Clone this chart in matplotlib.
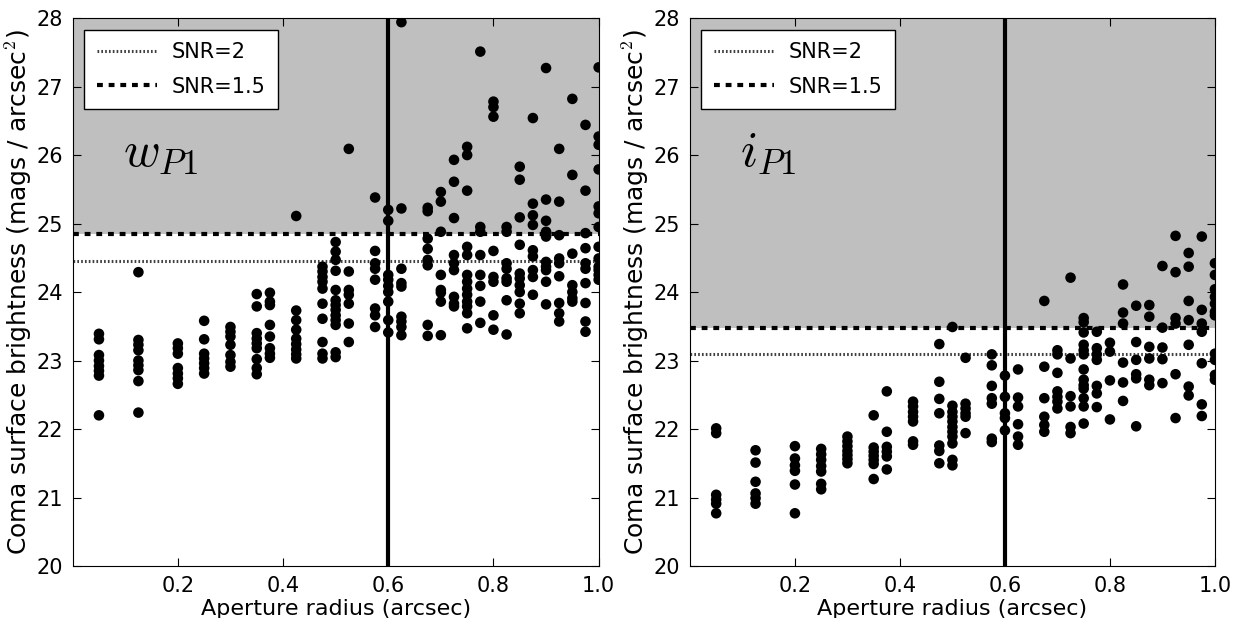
import matplotlib
matplotlib.use('Agg')
import matplotlib.pyplot as plt
import numpy as np

radii = [0.05, 0.125, 0.2, 0.25, 0.3, 0.35, 0.375, 0.425, 0.475, 0.5, 0.525,
         0.575, 0.6, 0.625, 0.675, 0.7, 0.725, 0.75, 0.775, 0.8, 0.825, 0.85,
         0.875, 0.9, 0.925, 0.95, 0.975, 1.0]

# w_P1 surface brightness per aperture radius
w_sb = [
    [23.39, 23.31, 23.08, 23.00, 22.92, 22.85, 22.78, 22.20],
    [24.29, 23.30, 23.23, 23.15, 23.00, 22.93, 22.86, 22.70, 22.24],
    [23.25, 23.18, 23.10, 22.89, 22.81, 22.74, 22.66],
    [23.58, 23.31, 23.10, 23.03, 22.96, 22.89, 22.81],
    [23.49, 23.42, 23.35, 23.23, 23.08, 22.98, 22.91],
    [23.97, 23.79, 23.40, 23.32, 23.25, 23.18, 23.02, 22.89, 22.80],
    [23.99, 23.86, 23.81, 23.52, 23.35, 23.18, 23.10, 23.04],
    [25.11, 23.73, 23.59, 23.45, 23.32, 23.24, 23.16, 23.09, 23.03],
    [24.37, 24.30, 24.22, 24.15, 24.05, 23.83, 23.61, 23.27, 23.10, 23.03],
    [24.73, 24.59, 24.47, 24.31, 24.03, 23.88, 23.81, 23.74, 23.66, 23.59, 23.52, 23.12, 23.05],
    [26.09, 24.30, 24.03, 23.96, 23.83, 23.54, 23.27],
    [25.38, 24.60, 24.42, 24.34, 24.18, 23.76, 23.66, 23.49],
    [25.20, 25.04, 24.25, 24.18, 24.09, 24.00, 23.86, 23.59, 23.41],
    [27.94, 25.22, 24.34, 24.13, 24.08, 23.64, 23.57, 23.49, 23.37],
    [25.23, 25.18, 24.78, 24.63, 24.47, 24.39, 23.52, 23.36],
    [25.46, 25.32, 24.88, 24.25, 24.03, 23.99, 23.86, 23.37],
    [25.93, 25.61, 25.08, 24.54, 24.42, 24.32, 23.93, 23.83, 23.79],
    [26.12, 26.00, 25.48, 24.66, 24.54, 24.25, 24.15, 24.05, 23.96, 23.86, 23.79, 23.69, 23.47],
    [27.51, 24.95, 24.88, 24.54, 24.25, 24.09, 23.86, 23.55],
    [26.78, 26.70, 26.56, 24.60, 24.22, 24.15, 23.66, 23.45],
    [24.95, 24.88, 24.42, 24.34, 24.20, 24.15, 23.88, 23.38],
    [25.83, 25.64, 25.09, 24.69, 24.27, 24.20, 24.10, 24.00, 23.83, 23.69],
    [26.54, 25.29, 25.12, 24.98, 24.61, 24.52, 24.32, 24.22, 23.96],
    [27.27, 25.35, 25.04, 24.88, 24.81, 24.44, 24.37, 24.32, 24.15, 23.82],
    [26.09, 25.32, 24.83, 24.49, 24.42, 24.23, 23.84, 23.69, 23.57],
    [26.82, 25.71, 24.56, 24.10, 24.00, 23.91, 23.86],
    [26.44, 25.48, 24.86, 24.64, 24.42, 24.34, 24.13, 23.84, 23.57, 23.42],
    [27.28, 26.27, 26.15, 25.79, 25.25, 25.15, 24.95, 24.66, 24.49, 24.37, 24.32, 24.25, 24.18],
]

# i_P1 surface brightness per aperture radius
i_sb = [
    [22.01, 21.94, 21.04, 20.97, 20.91, 20.77],
    [21.69, 21.51, 21.23, 21.06, 20.99, 20.91],
    [21.75, 21.57, 21.47, 21.39, 21.19, 20.77],
    [21.71, 21.63, 21.55, 21.46, 21.38, 21.20, 21.12],
    [21.89, 21.82, 21.75, 21.68, 21.62, 21.56, 21.50],
    [22.20, 21.73, 21.67, 21.61, 21.55, 21.49, 21.27],
    [22.55, 21.96, 21.74, 21.67, 21.60, 21.41],
    [22.40, 22.33, 22.25, 22.18, 22.11, 21.82, 21.77],
    [23.24, 22.69, 22.44, 22.23, 21.76, 21.68, 21.50],
    [23.49, 22.34, 22.25, 22.18, 22.11, 22.03, 21.96, 21.89, 21.79, 21.55, 21.47],
    [23.04, 22.37, 22.30, 22.23, 22.18, 21.94],
    [23.09, 22.93, 22.63, 22.45, 22.37, 21.86, 21.81],
    [22.78, 22.47, 22.23, 22.16, 21.98],
    [22.87, 22.46, 22.33, 22.07, 21.89, 21.77],
    [23.87, 22.91, 22.45, 22.18, 22.06, 21.96],
    [23.15, 23.09, 22.82, 22.55, 22.47, 22.40, 22.30],
    [24.21, 23.03, 22.48, 22.33, 22.03, 21.94],
    [23.62, 23.56, 23.41, 23.23, 23.15, 23.09, 22.87, 22.72, 22.64, 22.59, 22.45, 22.33, 22.08],
    [23.42, 23.18, 23.09, 23.01, 22.63, 22.52, 22.32],
    [23.26, 23.13, 22.71, 22.14],
    [24.11, 23.70, 23.54, 22.97, 22.68, 22.41],
    [23.80, 23.27, 23.01, 22.80, 22.74, 22.04],
    [23.81, 23.64, 23.20, 23.03, 22.72, 22.64],
    [24.38, 23.48, 23.19, 23.02, 22.67],
    [24.82, 24.29, 23.62, 23.54, 22.80, 22.16],
    [24.57, 24.37, 23.87, 23.59, 23.23, 22.62, 22.49],
    [24.81, 23.74, 23.54, 23.42, 22.96, 22.36, 22.19],
    [24.42, 24.25, 24.04, 23.93, 23.83, 23.71, 23.66, 23.10, 23.01, 22.79, 22.72],
]

snr2 = [24.45, 23.09]
snr15 = [24.85, 23.47]
filters = [r'$w_{P1}$', r'$i_{P1}$']
seeing_cut = 0.6

plt.rcParams['font.family'] = ['DejaVu Sans']
plt.rcParams['mathtext.fontset'] = 'cm'

fig = plt.figure(figsize=(12.42, 6.18), dpi=100)
axes = [fig.add_axes([0.0585, 0.0841, 0.4235, 0.8867]),
        fig.add_axes([0.5555, 0.0841, 0.4227, 0.8867])]

for ax, sb, lo, hi, name in zip(axes, [w_sb, i_sb], snr2, snr15, filters):
    xs = np.concatenate([[r] * len(col) for r, col in zip(radii, sb)])
    ys = np.concatenate(sb)
    ax.axhspan(hi, 28, color='0.75', lw=0, zorder=0)
    ax.axhline(lo, color='0.25', lw=2.2, linestyle=(0, (0.55, 0.7)), label='SNR=2', zorder=1)
    ax.axhline(hi, color='k', lw=3, linestyle=(0, (1.4, 1.4)), label='SNR=1.5', zorder=1)
    ax.scatter(xs, ys, s=58, c='k', edgecolors='none', zorder=3)
    ax.axvline(seeing_cut, color='k', lw=3, zorder=4)
    ax.text(0.095, 25.85, name, fontsize=36)

    ax.set_xlim(0, 1.0)
    ax.set_ylim(20, 28)
    ax.set_xticks([0.2, 0.4, 0.6, 0.8, 1.0])
    ax.set_yticks(range(20, 29))
    ax.tick_params(direction='in', top=True, right=True, length=6, width=0.8,
                   labelsize=15, pad=7)
    ax.set_xlabel('Aperture radius (arcsec)', fontsize=16, labelpad=2)
    ax.set_ylabel('Coma surface brightness (mags / arcsec$^2$)', fontsize=18, labelpad=2)
    leg = ax.legend(loc='upper left', fontsize=15, fancybox=False, framealpha=1,
                    handlelength=2.9, handletextpad=0.7, borderpad=0.6,
                    labelspacing=0.7, borderaxespad=0.55)
    leg.get_frame().set_edgecolor('k')

fig.savefig('out.png', dpi=100, facecolor='white')
